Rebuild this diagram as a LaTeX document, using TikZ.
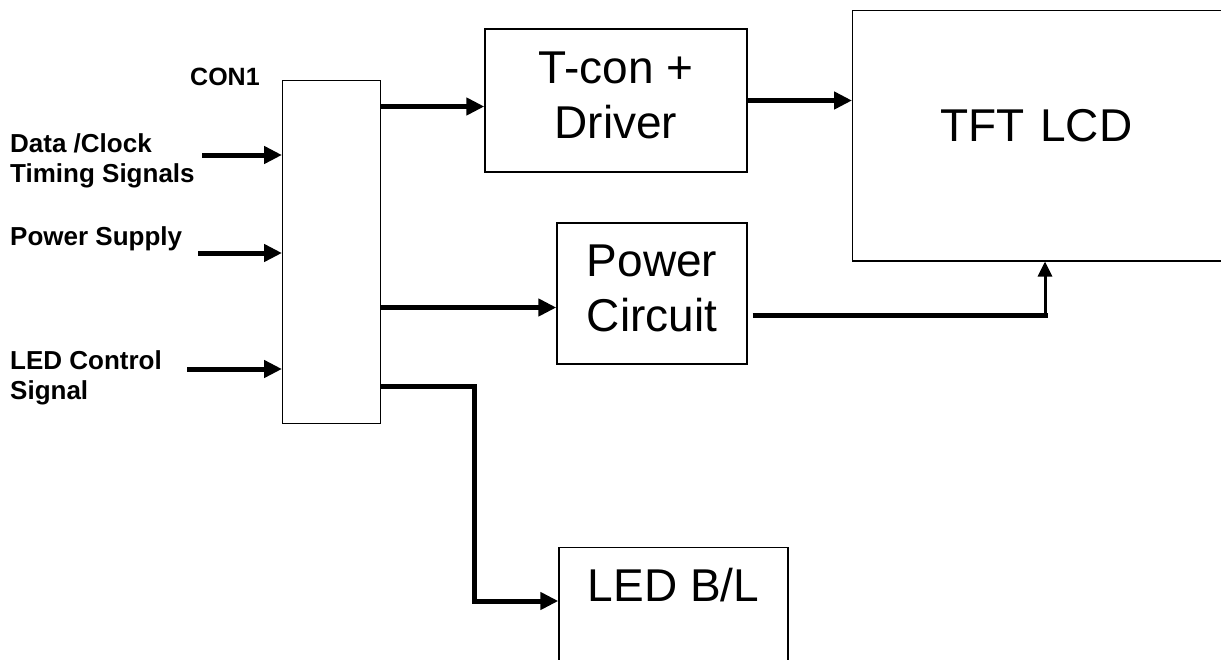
\documentclass[tikz,border=0pt]{standalone}
\usepackage{fontspec}
\setmainfont{Liberation Sans}
\usetikzlibrary{arrows.meta,positioning}

\begin{document}
\begin{tikzpicture}[x=1pt,y=-1pt,
  box/.style={draw,line width=1.4pt,inner sep=0pt},
  big/.style={font=\fontsize{46}{55}\selectfont,align=center},
  lbl/.style={font=\fontsize{26}{30}\selectfont\bfseries,align=left,inner sep=0pt},
  arr/.style={line width=5pt,-{Triangle[length=18pt,width=17pt]}},
  wire/.style={line width=5pt},
  thinarr/.style={line width=3pt,-{Triangle[length=15pt,width=14pt]}}]

\useasboundingbox (0,0) rectangle (1221,659);
\fill[white] (0,0) rectangle (1221,659);
\clip (0,0) rectangle (1221,659);

% ---------- blocks ----------
\node[box,anchor=north west,minimum width=98pt,minimum height=343pt] (con) at (282,80) {};
\node[lbl,anchor=base west,font=\fontsize{25}{30}\selectfont\bfseries] (conlbl) at (190,85) {CON1};
\node[box,big,minimum width=262pt,minimum height=143pt,text depth=10pt] (tcon) at (616,100.5) {T-con +\\Driver};
\node[box,big,minimum width=190pt,minimum height=141pt,text depth=10pt] (pwr) at (652,293.5) {Power\\Circuit};
\node[box,big,anchor=north west,text width=300pt,align=left,inner xsep=88pt,
  inner ysep=99pt,text depth=20pt] (tft) at (852,10) {TFT LCD};
\node[box,big,anchor=north,minimum width=229pt,inner ysep=20pt,text depth=140pt] (led) at (673.5,547) {LED B/L};

% ---------- inputs ----------
\node[lbl,anchor=north west] (datalbl) at (10,133) {Data /Clock\\Timing Signals};
\node[lbl,anchor=north west] (pslbl) at (10,226) {Power Supply};
\node[lbl,anchor=north west] (ledlbl) at (10,350) {LED Control\\Signal};
\coordinate (din) at (202,155);
\coordinate (pin) at (198,253);
\coordinate (lin) at (187,369);
\draw[arr] (din) -- (din -| con.west);
\draw[arr] (pin) -- (pin -| con.west);
\draw[arr] (lin) -- (lin -| con.west);

% ---------- outputs ----------
\draw[arr] ([yshift=-6pt]tcon.west -| con.east) -- ([yshift=-6pt]tcon.west);
\draw[arr] (tcon.east) -- (tcon.east -| tft.west);
\draw[arr] ([yshift=-14pt]pwr.west -| con.east) -- ([yshift=-14pt]pwr.west);
\coordinate (pbend) at (1045,315);
\draw[wire] ([xshift=5pt]pwr.east |- pbend) -- ([xshift=3pt]pbend);
\draw[thinarr] (pbend) -- (pbend |- tft.south);
\coordinate (lbend) at (474,386);
\draw[arr,line join=miter] (con.east |- lbend) -- (lbend) |- ([yshift=-54pt]led.north west);
\end{tikzpicture}
\end{document}
